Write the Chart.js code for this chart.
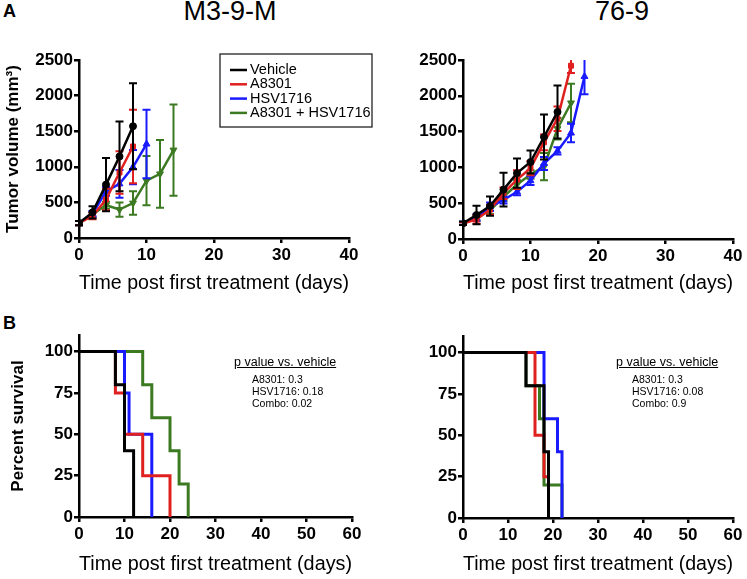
<!DOCTYPE html>
<html>
<head>
<meta charset="utf-8">
<script src="https://cdn.jsdelivr.net/npm/chart.js@4"></script>
<style>
  body { margin: 0; background: #fff; }
  #page { position: relative; width: 747px; height: 579px; overflow: hidden;
          font-family: "Liberation Sans", Arial, sans-serif; color: #000; }
  canvas { position: absolute; }
  .lbl { position: absolute; white-space: nowrap; }
</style>
</head>
<body>
<div id="page">
  <div class="lbl" style="left:3px;top:2px;font-size:18px;line-height:18px;font-weight:bold">A</div>
  <div class="lbl" style="left:3px;top:314px;font-size:18px;line-height:18px;font-weight:bold">B</div>
  <div class="lbl" style="left:130px;width:200px;text-align:center;top:-2px;font-size:27px;line-height:27px">M3-9-M</div>
  <div class="lbl" style="left:522px;width:200px;text-align:center;top:-2px;font-size:27px;line-height:27px">76-9</div>

  <canvas id="tumorM" width="375" height="262" style="left:0;top:40px"></canvas>
  <canvas id="tumor76" width="367" height="262" style="left:380px;top:40px"></canvas>
  <canvas id="survM" width="375" height="279" style="left:0;top:300px"></canvas>
  <canvas id="surv76" width="367" height="279" style="left:380px;top:300px"></canvas>

  <div class="lbl" style="left:234px;top:356px;font-size:12.5px;line-height:13px;text-decoration:underline">p value vs. vehicle</div>
  <div class="lbl" style="left:252px;top:373px;font-size:10.5px;line-height:12px">A8301: 0.3<br>HSV1716: 0.18<br>Combo: 0.02</div>
  <div class="lbl" style="left:616px;top:356px;font-size:12.5px;line-height:13px;text-decoration:underline">p value vs. vehicle</div>
  <div class="lbl" style="left:632px;top:373px;font-size:10.5px;line-height:12px">A8301: 0.3<br>HSV1716: 0.08<br>Combo: 0.9</div>
</div>

<script>
const FONT = '"Liberation Sans", Arial, sans-serif';

// groups, same order everywhere
const SERIES = ['Vehicle', 'A8301', 'HSV1716', 'A8301 + HSV1716'];
const COLORS = ['#000000', '#e0201f', '#1a1aff', '#3c7a22'];

// tumor measurement days
const TUMOR_DAYS = [0, 2, 4, 6, 8, 10, 12, 14, 16, 18];

// M3-9-M tumor volume, mean and error (mm3)
const m39Vehicle    = [210, 360, 750, 1145, 1570];
const m39VehicleErr = [30, 85, 375, 490, 605];
const m39A8301      = [210, 310, 540, 920, 1285];
const m39A8301Err   = [30, 45, 150, 300, 515];
const m39Hsv        = [210, 340, 655, 760, 995, 1320];
const m39HsvErr     = [30, 40, 60, 195, 240, 480];
const m39Combo      = [210, 330, 460, 400, 490, 805, 900, 1235];
const m39ComboErr   = [30, 40, 50, 100, 165, 345, 475, 640];

// 76-9 tumor volume, mean and error (mm3)
const c76Vehicle    = [220, 335, 460, 690, 920, 1075, 1425, 1775];
const c76VehicleErr = [25, 130, 135, 235, 205, 160, 315, 370];
const c76A8301      = [215, 275, 410, 640, 830, 990, 1350, 1680, 2420];
const c76A8301Err   = [20, 60, 70, 80, 130, 100, 110, 170, 100];
const c76Hsv        = [220, 300, 450, 545, 660, 815, 1055, 1230, 1480, 2270];
const c76HsvErr     = [20, 50, 60, 50, 50, 60, 90, 50, 130, 250];
const c76Combo      = [220, 300, 400, 590, 760, 900, 1010, 1540, 1900];
const c76ComboErr   = [20, 40, 50, 60, 60, 60, 190, 150, 270];

// survival steps (day of drop, percent after drop)
const m39SurvVehicleDays = [0, 8, 10, 12];
const m39SurvVehicle     = [100, 80, 40, 0];
const m39SurvA8301Days   = [0, 8, 10, 14, 20];
const m39SurvA8301       = [100, 75, 50, 25, 0];
const m39SurvHsvDays     = [0, 10, 11, 16];
const m39SurvHsv         = [100, 75, 50, 0];
const m39SurvComboDays   = [0, 14, 16, 20, 22, 24];
const m39SurvCombo       = [100, 80, 60, 40, 20, 0];

const c76SurvVehicleDays = [0, 14, 18, 19];
const c76SurvVehicle     = [100, 80, 40, 0];
const c76SurvA8301Days   = [0, 16, 18, 19];
const c76SurvA8301       = [100, 50, 25, 0];
const c76SurvHsvDays     = [0, 18, 21, 22];
const c76SurvHsv         = [100, 60, 40, 0];
const c76SurvComboDays   = [0, 14, 17, 18, 22];
const c76SurvCombo       = [100, 80, 60, 20, 0];

// marker per group
const POINT_STYLE = ['circle', 'rect', 'triangle', 'triangle'];
const POINT_ROT = [0, 0, 0, 180];

// draws mean +/- error whiskers with the dataset
const errorBars = {
  id: 'errorBars',
  afterDatasetDraw(chart, args) {
    const ds = chart.data.datasets[args.index];
    if (!ds.errors) return;
    const ctx = chart.ctx;
    const y = chart.scales.y;
    const area = chart.chartArea;
    ctx.save();
    // keep whiskers inside the plot like the original
    ctx.beginPath();
    ctx.rect(area.left - 6, area.top, area.right - area.left + 12, area.bottom - area.top + 6);
    ctx.clip();
    ctx.strokeStyle = ds.borderColor;
    ctx.lineWidth = 2;
    args.meta.data.forEach((pt, i) => {
      const v = ds.data[i].y, e = ds.errors[i];
      const top = y.getPixelForValue(v + e);
      const bot = y.getPixelForValue(v - e);
      ctx.beginPath();
      ctx.moveTo(pt.x, top); ctx.lineTo(pt.x, bot);
      ctx.moveTo(pt.x - 4, top); ctx.lineTo(pt.x + 4, top);
      ctx.moveTo(pt.x - 4, bot); ctx.lineTo(pt.x + 4, bot);
      ctx.stroke();
    });
    ctx.restore();
  }
};

// framed legend like the original figure
const boxLegend = {
  id: 'boxLegend',
  afterDraw(chart, args, opts) {
    if (!opts.box) return;
    const ctx = chart.ctx;
    const [x, y, w, h] = opts.box;
    ctx.save();
    ctx.fillStyle = '#fff';
    ctx.fillRect(x, y, w, h);
    ctx.strokeStyle = '#222';
    ctx.lineWidth = 1.3;
    ctx.strokeRect(x, y, w, h);
    ctx.font = '14.5px ' + FONT;
    ctx.textBaseline = 'middle';
    chart.data.datasets.forEach((ds, i) => {
      const yy = y + 16 + i * 14.3;
      ctx.strokeStyle = ds.borderColor;
      ctx.lineWidth = 2.5;
      ctx.beginPath();
      ctx.moveTo(x + 10, yy); ctx.lineTo(x + 27, yy);
      ctx.stroke();
      ctx.fillStyle = '#000';
      ctx.fillText(ds.label, x + 30, yy);
    });
    ctx.restore();
  }
};

function toXY(xs, ys) {
  return ys.map((v, i) => ({x: xs[i], y: v}));
}

function scales(o) {
  const tickFont = {family: FONT, size: 17, weight: 'bold'};
  const grid = {display: true, drawOnChartArea: false, drawTicks: true, tickLength: 5,
                color: '#000', lineWidth: 2.5};
  const border = {display: true, color: '#000', width: 2.5};
  const plain = v => String(v);
  return {
    x: {
      type: 'linear', min: 0, max: o.xMax,
      ticks: {stepSize: 10, font: tickFont, color: '#000', padding: 2, maxRotation: 0, callback: plain},
      grid: grid, border: border,
      title: {display: true, text: 'Time post first treatment (days)', color: '#000',
              font: {family: FONT, size: 20}, padding: {top: 0, bottom: o.xTitlePad}},
      afterFit: s => { s.height = o.xH; }
    },
    y: {
      type: 'linear', min: 0, max: o.yMax,
      ticks: {stepSize: o.yStep, font: tickFont, color: '#000', padding: 1, includeBounds: false, callback: plain},
      grid: grid, border: border,
      title: {display: !!o.yTitle, text: o.yTitle || '', color: '#000',
              font: {family: FONT, size: 17, weight: 'bold'}, padding: {top: o.yTitlePad || 0, bottom: 0}},
      afterFit: s => { s.width = o.yW; }
    }
  };
}

function tumorChart(id, series, errs, o) {
  const datasets = series.map((vals, k) => ({
    label: SERIES[k],
    data: toXY(TUMOR_DAYS, vals),
    errors: errs[k],
    borderColor: COLORS[k],
    backgroundColor: COLORS[k],
    borderWidth: 2.5,
    tension: 0,
    pointStyle: POINT_STYLE[k],
    rotation: POINT_ROT[k],
    pointRadius: k === 2 || k === 3 ? 4 : 3.5,
    pointBorderWidth: 1
  }));
  new Chart(document.getElementById(id), {
    type: 'line',
    data: {datasets},
    options: {
      responsive: false, animation: false,
      layout: {padding: o.pad},
      scales: scales(o),
      plugins: {legend: {display: false}, tooltip: {enabled: false}, boxLegend: {box: o.legendBox}}
    },
    plugins: [errorBars, boxLegend]
  });
}

function survChart(id, days, vals, o) {
  const datasets = vals.map((v, k) => ({
    label: SERIES[k],
    data: toXY(days[k], v),
    borderColor: COLORS[k],
    borderWidth: 3,
    stepped: 'before',
    pointRadius: 0,
    borderJoinStyle: 'miter',
    borderCapStyle: 'butt'
  }));
  new Chart(document.getElementById(id), {
    type: 'line',
    data: {datasets},
    options: {
      responsive: false, animation: false,
      layout: {padding: o.pad},
      scales: scales(o),
      plugins: {legend: {display: false}, tooltip: {enabled: false}}
    }
  });
}

tumorChart('tumorM',
  [m39Vehicle, m39A8301, m39Hsv, m39Combo],
  [m39VehicleErr, m39A8301Err, m39HsvErr, m39ComboErr],
  {pad: {left: 0, top: 20, right: 26, bottom: 0}, xMax: 40, yMax: 2500, yStep: 500,
   yW: 79, xH: 64, xTitlePad: 7, yTitle: 'Tumor volume (mm³)', yTitlePad: 3,
   legendBox: [220, 14, 152, 73]});

tumorChart('tumor76',
  [c76Vehicle, c76A8301, c76Hsv, c76Combo],
  [c76VehicleErr, c76A8301Err, c76HsvErr, c76ComboErr],
  {pad: {left: 0, top: 20, right: 14, bottom: 0}, xMax: 40, yMax: 2500, yStep: 500,
   yW: 83, xH: 63, xTitlePad: 7});

survChart('survM',
  [m39SurvVehicleDays, m39SurvA8301Days, m39SurvHsvDays, m39SurvComboDays],
  [m39SurvVehicle, m39SurvA8301, m39SurvHsv, m39SurvCombo],
  {pad: {left: 0, top: 35, right: 23, bottom: 0}, xMax: 60, yMax: 110, yStep: 25,
   yW: 79, xH: 62, xTitlePad: 3, yTitle: 'Percent survival', yTitlePad: 8});

survChart('surv76',
  [c76SurvVehicleDays, c76SurvA8301Days, c76SurvHsvDays, c76SurvComboDays],
  [c76SurvVehicle, c76SurvA8301, c76SurvHsv, c76SurvCombo],
  {pad: {left: 0, top: 36, right: 14, bottom: 0}, xMax: 60, yMax: 110, yStep: 25,
   yW: 83, xH: 61, xTitlePad: 3});
</script>
</body>
</html>
